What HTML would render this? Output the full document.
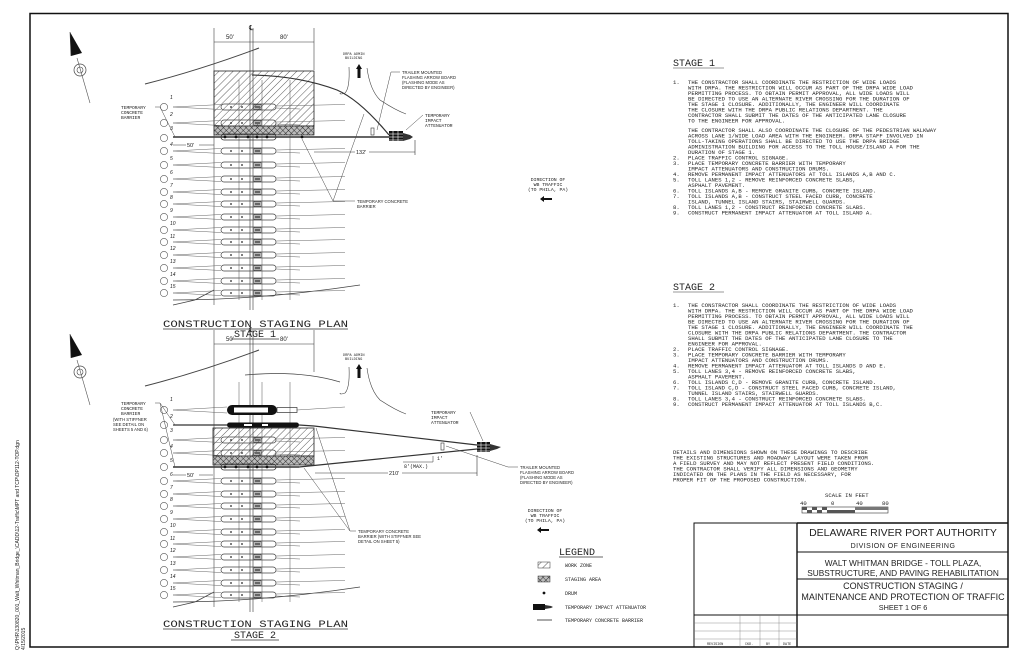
<!DOCTYPE html>
<html><head><meta charset="utf-8"><style>
html,body{margin:0;padding:0;background:#fff;}
svg{display:block;}
.m{font-family:"Liberation Mono",monospace;fill:#222;}
.s{font-family:"Liberation Sans",sans-serif;fill:#222;}
</style></head><body>
<svg width="1024" height="660" viewBox="0 0 1024 660" xmlns="http://www.w3.org/2000/svg">
<defs>
<pattern id="hatch" width="5" height="5" patternUnits="userSpaceOnUse" patternTransform="rotate(45)">
<line x1="0" y1="0" x2="0" y2="5" stroke="#333" stroke-width="0.8"/></pattern>
<pattern id="xh" width="4" height="4" patternUnits="userSpaceOnUse" patternTransform="rotate(45)">
<rect width="4" height="4" fill="#bbb"/><line x1="0" y1="0" x2="0" y2="4" stroke="#222" stroke-width="0.9"/><line x1="0" y1="0" x2="4" y2="0" stroke="#222" stroke-width="0.9"/></pattern>
<g id="row">
<line x1="173" y1="0" x2="221" y2="-2.5" stroke="#666" stroke-width="0.6"/>
<line x1="173" y1="0" x2="221" y2="2.5" stroke="#666" stroke-width="0.6"/>
<rect x="221" y="-3" width="55" height="6" rx="3" fill="none" stroke="#444" stroke-width="0.7"/>
<rect x="254" y="-2.5" width="7" height="5" fill="none" stroke="#333" stroke-width="0.7"/>
<rect x="255" y="-1.5" width="5" height="3" fill="#666"/>
<line x1="276" y1="-1" x2="345" y2="-2.5" stroke="#666" stroke-width="0.6"/>
<line x1="276" y1="1" x2="300" y2="2" stroke="#666" stroke-width="0.6"/>
<circle cx="164" cy="0" r="3.6" fill="none" stroke="#555" stroke-width="0.6"/>
<circle cx="231" cy="0" r="0.9" fill="#222"/><circle cx="242" cy="0" r="0.9" fill="#222"/>
</g>
<g id="north">
<polygon points="70,32 71,56 82,53" fill="#111"/>
<line x1="70" y1="32" x2="71" y2="56" stroke="#333" stroke-width="0.6"/>
<circle cx="80" cy="70" r="6" fill="none" stroke="#444" stroke-width="0.7"/>
<circle cx="80" cy="70" r="3" fill="none" stroke="#444" stroke-width="0.6"/>
<line x1="77" y1="58" x2="90" y2="103" stroke="#555" stroke-width="0.6"/>
</g>
<g id="vlines">
<line x1="214" y1="28" x2="214" y2="305" stroke="#444" stroke-width="0.6"/>
<line x1="314" y1="28" x2="314" y2="70" stroke="#444" stroke-width="0.6"/>
<line x1="250" y1="28" x2="250" y2="310" stroke="#333" stroke-width="0.6"/>
<line x1="253" y1="28" x2="253" y2="310" stroke="#333" stroke-width="0.6"/>
<line x1="239" y1="80" x2="239" y2="300" stroke="#555" stroke-width="0.5"/>
<line x1="262" y1="80" x2="262" y2="300" stroke="#555" stroke-width="0.5"/>
<line x1="290" y1="80" x2="290" y2="300" stroke="#555" stroke-width="0.5"/>
<text x="249" y="30" class="s" font-size="7">℄</text>
<line x1="214" y1="42" x2="314" y2="42" stroke="#333" stroke-width="0.6"/>
<text x="226" y="39" class="s" font-size="6">50'</text><text x="280" y="39" class="s" font-size="6">80'</text>
<path d="M145,84 Q200,70 259,48" fill="none" stroke="#444" stroke-width="1"/>
<path d="M173,305 L195,300 L214,290 M173,300 Q260,300 360,285" fill="none" stroke="#444" stroke-width="0.8"/>
</g>
</defs>

<!-- border -->
<rect x="30" y="13.5" width="978" height="633.5" fill="none" stroke="#111" stroke-width="1.5"/>

<text transform="translate(19,650) rotate(-90)" class="s" font-size="5" fill="#666">Q:\PHR\130820_001_Walt_Whitman_Bridge_\CADD\12-Traffic\MPT and TCP\OP112-TOP.dgn</text>
<text transform="translate(25,650) rotate(-90)" class="s" font-size="5" fill="#666">4/15/2015</text>

<!-- ========== STAGE 1 PLAN ========== -->
<use href="#north"/>
<use href="#vlines"/>
<rect x="214" y="71" width="100" height="55" fill="url(#hatch)" stroke="#222" stroke-width="0.8"/>
<rect x="214" y="126" width="100" height="9" fill="url(#xh)" stroke="#222" stroke-width="0.7"/>
<use href="#row" y="107"/><use href="#row" y="123"/>
<use href="#row" y="151"/><use href="#row" y="165"/><use href="#row" y="179"/><use href="#row" y="192"/>
<use href="#row" y="204"/><use href="#row" y="217"/><use href="#row" y="230"/><use href="#row" y="242"/>
<use href="#row" y="255"/><use href="#row" y="268"/><use href="#row" y="281"/><use href="#row" y="293"/>
<circle cx="164" cy="138" r="3.6" fill="none" stroke="#555" stroke-width="0.6"/>
<g class="s" font-size="5" font-style="italic" fill="#555">
<text x="170" y="99">1</text><text x="170" y="116">2</text><text x="170" y="130">3</text><text x="170" y="146">4</text><text x="170" y="160">5</text><text x="170" y="174">6</text><text x="170" y="187">7</text><text x="170" y="199">8</text><text x="170" y="212">9</text><text x="170" y="225">10</text><text x="170" y="238">11</text><text x="170" y="250">12</text><text x="170" y="263">13</text><text x="170" y="276">14</text><text x="170" y="288">15</text></g>
<!-- barrier -->
<line x1="173" y1="137" x2="389" y2="137" stroke="#333" stroke-width="1.4"/>
<rect x="221" y="134" width="55" height="6" rx="3" fill="none" stroke="#333" stroke-width="0.8"/>
<g fill="#111"><circle cx="225" cy="137" r="1.4"/><circle cx="236" cy="137" r="1.4"/><circle cx="248" cy="137" r="1.4"/><circle cx="257" cy="137" r="1.4"/><circle cx="267" cy="137" r="1.4"/><circle cx="302" cy="137" r="1.4"/></g>
<path d="M389,135 Q360,100 337,90 Q300,76 252,75" fill="none" stroke="#333" stroke-width="1.2"/>
<rect x="389" y="131" width="14" height="10" fill="#111"/>
<g stroke="#fff" stroke-width="0.6"><line x1="389" y1="134" x2="403" y2="134"/><line x1="389" y1="137" x2="403" y2="137"/><line x1="389" y1="140" x2="403" y2="140"/><line x1="393" y1="131" x2="393" y2="141"/><line x1="398" y1="131" x2="398" y2="141"/></g>
<polygon points="403,133 410,135 413,137 410,139 403,141" fill="#333"/>
<line x1="314" y1="152" x2="415" y2="152" stroke="#333" stroke-width="0.6"/>
<line x1="415" y1="140" x2="415" y2="155" stroke="#333" stroke-width="0.6"/>
<rect x="355" y="149" width="14" height="6" fill="#fff"/><text x="356" y="154" class="s" font-size="5.5">132'</text>
<line x1="173" y1="145" x2="214" y2="145" stroke="#333" stroke-width="0.6"/>
<rect x="186" y="141" width="13" height="7" fill="#fff"/><text x="187" y="147" class="s" font-size="5.5">50'</text>
<g class="m" font-size="4.6"><text x="121" y="109">TEMPORARY</text><text x="121" y="114">CONCRETE</text><text x="121" y="119">BARRIER</text></g>
<line x1="155" y1="107" x2="160" y2="107" stroke="#444" stroke-width="0.5"/>
<line x1="160" y1="107" x2="175" y2="137" stroke="#444" stroke-width="0.5"/>
<g class="m" font-size="3.6"><text x="343" y="55">DRPA ADMIN</text><text x="345" y="59">BUILDING</text></g>
<polygon points="359,64 362,69 360.5,69 360.5,78 357.5,78 357.5,69 356,69" fill="#111"/>
<path d="M349,67 Q350,88 345,93 Q340,95 340,93" fill="none" stroke="#444" stroke-width="0.6"/>
<path d="M367,68 Q370,90 380,100 Q395,110 406,114" fill="none" stroke="#444" stroke-width="0.6"/>
<g class="s" font-size="4.2"><text x="402" y="74">TRAILER MOUNTED</text><text x="402" y="79">FLASHING ARROW BOARD</text><text x="402" y="84">(FLASHING MODE AS</text><text x="402" y="89">DIRECTED BY ENGINEER)</text></g>
<line x1="400" y1="72" x2="391" y2="72" stroke="#444" stroke-width="0.5"/><line x1="391" y1="72" x2="377" y2="130" stroke="#444" stroke-width="0.5"/>
<rect x="371" y="128" width="3" height="7" fill="none" stroke="#333" stroke-width="0.6"/>
<g class="m" font-size="4.6"><text x="425" y="117">TEMPORARY</text><text x="425" y="122">IMPACT</text><text x="425" y="127">ATTENUATOR</text></g>
<line x1="423" y1="115" x2="406" y2="130" stroke="#444" stroke-width="0.5"/>
<g class="s" font-size="4.2"><text x="357" y="203">TEMPORARY CONCRETE</text><text x="357" y="208">BARRIER</text></g>
<polyline points="355,201 333,201 302,139" fill="none" stroke="#444" stroke-width="0.5"/>
<line x1="333" y1="201" x2="364" y2="114" stroke="#444" stroke-width="0.5"/>
<g class="m" font-size="4.8" text-anchor="middle"><text x="548" y="181">DIRECTION OF</text><text x="548" y="186">WB TRAFFIC</text><text x="548" y="191">(TO PHILA, PA)</text></g>
<polygon points="540,199 544,196 544,198 552,198 552,200 544,200 544,202" fill="#111"/>
<text x="163" y="327" class="m" font-size="10.5" textLength="185" lengthAdjust="spacingAndGlyphs">CONSTRUCTION STAGING PLAN</text>
<line x1="163" y1="329" x2="348" y2="329" stroke="#333" stroke-width="0.7"/>
<text x="255" y="337" class="m" font-size="10" text-anchor="middle">STAGE 1</text>
<line x1="231" y1="339" x2="279" y2="339" stroke="#333" stroke-width="0.7"/>

<!-- ========== STAGE 2 PLAN ========== -->
<g transform="translate(0,302)"><use href="#north"/><use href="#vlines"/></g>
<rect x="213" y="428" width="101" height="28" fill="url(#hatch)" stroke="#222" stroke-width="0.8"/>
<rect x="213" y="456" width="101" height="9" fill="url(#xh)" stroke="#222" stroke-width="0.7"/>
<g transform="translate(0,302)">
<use href="#row" y="138"/><use href="#row" y="151"/>
<use href="#row" y="179"/><use href="#row" y="192"/>
<use href="#row" y="204"/><use href="#row" y="217"/><use href="#row" y="230"/><use href="#row" y="242"/>
<use href="#row" y="255"/><use href="#row" y="268"/><use href="#row" y="281"/><use href="#row" y="293"/>
</g>
<g class="s" font-size="5" font-style="italic" fill="#555">
<text x="170" y="401">1</text><text x="170" y="418">2</text><text x="170" y="432">3</text><text x="170" y="448">4</text><text x="170" y="462">5</text><text x="170" y="476">6</text><text x="170" y="489">7</text><text x="170" y="501">8</text><text x="170" y="514">9</text><text x="170" y="527">10</text><text x="170" y="540">11</text><text x="170" y="552">12</text><text x="170" y="565">13</text><text x="170" y="578">14</text><text x="170" y="590">15</text></g>
<circle cx="164" cy="410" r="3.6" fill="none" stroke="#555" stroke-width="0.6"/>
<circle cx="164" cy="425" r="3.6" fill="none" stroke="#555" stroke-width="0.6"/>
<circle cx="164" cy="467" r="3.6" fill="none" stroke="#555" stroke-width="0.6"/>
<line x1="173" y1="410" x2="227" y2="407" stroke="#666" stroke-width="0.6"/><line x1="173" y1="410" x2="227" y2="413" stroke="#666" stroke-width="0.6"/>
<line x1="297" y1="410" x2="345" y2="407" stroke="#666" stroke-width="0.6"/>
<rect x="227" y="405" width="50" height="10" rx="5" fill="#111"/>
<rect x="234" y="407.5" width="34" height="5" fill="#fff"/>
<rect x="277" y="407.5" width="20" height="5" fill="none" stroke="#333" stroke-width="0.7"/>
<line x1="173" y1="425" x2="227" y2="425" stroke="#333" stroke-width="1.3"/>
<rect x="227" y="422.5" width="72" height="5" rx="2.5" fill="#111"/>
<rect x="244" y="424" width="8" height="2" fill="#fff"/><rect x="262" y="424" width="6" height="2" fill="#fff"/>
<line x1="299" y1="425" x2="314" y2="426" stroke="#333" stroke-width="1.2"/>
<line x1="314" y1="426" x2="477" y2="445" stroke="#333" stroke-width="1.2"/>
<line x1="173" y1="467" x2="299" y2="467" stroke="#333" stroke-width="1.4"/>
<line x1="299" y1="467" x2="477" y2="449" stroke="#333" stroke-width="1.2"/>
<rect x="221" y="464" width="55" height="6" rx="3" fill="none" stroke="#333" stroke-width="0.8"/>
<g fill="#111"><circle cx="225" cy="467" r="1.4"/><circle cx="236" cy="467" r="1.4"/><circle cx="248" cy="467" r="1.4"/><circle cx="257" cy="467" r="1.4"/><circle cx="267" cy="467" r="1.4"/></g>
<rect x="477" y="442" width="13" height="10" fill="#111"/>
<g stroke="#fff" stroke-width="0.6"><line x1="477" y1="445" x2="490" y2="445"/><line x1="477" y1="448" x2="490" y2="448"/><line x1="477" y1="451" x2="490" y2="451"/><line x1="481" y1="442" x2="481" y2="452"/><line x1="486" y1="442" x2="486" y2="452"/></g>
<polygon points="490,444 497,446 501,447 497,449 490,451" fill="#333"/>
<rect x="441" y="443" width="3" height="7" fill="none" stroke="#333" stroke-width="0.6"/>
<line x1="315" y1="473" x2="477" y2="473" stroke="#333" stroke-width="0.6"/>
<line x1="477" y1="455" x2="477" y2="476" stroke="#333" stroke-width="0.6"/>
<rect x="388" y="470" width="14" height="6" fill="#fff"/><text x="389" y="475" class="s" font-size="5.5">210'</text>
<line x1="403" y1="462" x2="433" y2="462" stroke="#333" stroke-width="0.5"/><line x1="433" y1="456" x2="433" y2="462" stroke="#333" stroke-width="0.5"/>
<text x="404" y="468" class="m" font-size="5">8'(MAX.)</text><text x="437" y="460" class="m" font-size="5">1'</text>
<line x1="173" y1="475" x2="213" y2="475" stroke="#333" stroke-width="0.6"/>
<rect x="186" y="471" width="13" height="7" fill="#fff"/><text x="187" y="477" class="s" font-size="5.5">50'</text>
<g class="m" font-size="4.6"><text x="121" y="405">TEMPORARY</text><text x="121" y="410">CONCRETE</text><text x="121" y="415">BARRIER</text></g>
<g class="s" font-size="4.2"><text x="113" y="421">(WITH STIFFNER</text><text x="113" y="426">SEE DETAIL ON</text><text x="113" y="431">SHEETS 5 AND 6)</text></g>
<line x1="155" y1="403" x2="160" y2="403" stroke="#444" stroke-width="0.5"/>
<line x1="160" y1="403" x2="175" y2="467" stroke="#444" stroke-width="0.5"/>
<line x1="160" y1="403" x2="175" y2="425" stroke="#444" stroke-width="0.5"/>
<g class="m" font-size="3.6"><text x="343" y="356">DRPA ADMIN</text><text x="345" y="360">BUILDING</text></g>
<polygon points="359,364 362,369 360.5,369 360.5,378 357.5,378 357.5,369 356,369" fill="#111"/>
<path d="M349,367 Q350,388 345,393 Q340,395 340,393" fill="none" stroke="#444" stroke-width="0.6"/>
<path d="M367,368 Q370,390 380,400 Q395,410 406,414" fill="none" stroke="#444" stroke-width="0.6"/>
<path d="M245,375 Q300,370 340,382" fill="none" stroke="#444" stroke-width="0.8"/>
<g class="m" font-size="4.6"><text x="431" y="414">TEMPORARY</text><text x="431" y="419">IMPACT</text><text x="431" y="424">ATTENUATOR</text></g>
<line x1="470" y1="412" x2="483" y2="441" stroke="#444" stroke-width="0.5"/>
<g class="s" font-size="4.2"><text x="520" y="469">TRAILER MOUNTED</text><text x="520" y="474">FLASHING ARROW BOARD</text><text x="520" y="479">(FLASHING MODE AS</text><text x="520" y="484">DIRECTED BY ENGINEER)</text></g>
<polyline points="518,467 508,467 446,446" fill="none" stroke="#444" stroke-width="0.5"/>
<g class="s" font-size="4.2"><text x="358" y="533">TEMPORARY CONCRETE</text><text x="358" y="538">BARRIER (WITH STIFFNER SEE</text><text x="358" y="543">DETAIL ON SHEET 5)</text></g>
<polyline points="356,531 350,531 304,468" fill="none" stroke="#444" stroke-width="0.5"/>
<line x1="350" y1="531" x2="316" y2="428" stroke="#444" stroke-width="0.5"/>
<g class="m" font-size="4.8" text-anchor="middle"><text x="545" y="512">DIRECTION OF</text><text x="545" y="517">WB TRAFFIC</text><text x="545" y="522">(TO PHILA, PA)</text></g>
<polygon points="537,530 541,527 541,529 549,529 549,531 541,531 541,533" fill="#111"/>
<!-- legend -->
<text x="559" y="555" class="m" font-size="10">LEGEND</text>
<line x1="559" y1="557" x2="603" y2="557" stroke="#333" stroke-width="0.7"/>
<rect x="538" y="562" width="12" height="6" fill="url(#hatch)" stroke="#333" stroke-width="0.5"/>
<rect x="538" y="576" width="12" height="6" fill="url(#xh)" stroke="#333" stroke-width="0.5"/>
<circle cx="544" cy="593" r="1.4" fill="#111"/>
<rect x="533" y="604" width="12" height="6" fill="#111"/><polygon points="545,605 551,606 553,607 551,608 545,609" fill="#333"/>
<line x1="537" y1="620" x2="552" y2="620" stroke="#555" stroke-width="1"/>
<g class="m" font-size="5"><text x="565" y="567">WORK ZONE</text><text x="565" y="581">STAGING AREA</text><text x="565" y="595">DRUM</text><text x="565" y="609">TEMPORARY IMPACT ATTENUATOR</text><text x="565" y="622">TEMPORARY CONCRETE BARRIER</text></g>
<text x="163" y="627" class="m" font-size="10.5" textLength="185" lengthAdjust="spacingAndGlyphs">CONSTRUCTION STAGING PLAN</text>
<line x1="163" y1="629" x2="348" y2="629" stroke="#333" stroke-width="0.7"/>
<text x="255" y="638" class="m" font-size="10" text-anchor="middle">STAGE 2</text>
<line x1="231" y1="640" x2="279" y2="640" stroke="#333" stroke-width="0.7"/>

<!-- ========== NOTES ========== -->
<text x="673" y="66" class="m" font-size="10">STAGE 1</text>
<line x1="673" y1="68" x2="724" y2="68" stroke="#333" stroke-width="0.6"/>
<g class="m" font-size="5.6">
<text x="673" y="84">1.</text>
<text x="688" y="84">THE CONSTRACTOR SHALL COORDINATE THE RESTRICTION OF WIDE LOADS</text>
<text x="688" y="89.5">WITH DRPA. THE RESTRICTION WILL OCCUR AS PART OF THE DRPA WIDE LOAD</text>
<text x="688" y="95">PERMITTING PROCESS. TO OBTAIN PERMIT APPROVAL, ALL WIDE LOADS WILL</text>
<text x="688" y="100.5">BE DIRECTED TO USE AN ALTERNATE RIVER CROSSING FOR THE DURATION OF</text>
<text x="688" y="106">THE STAGE 1 CLOSURE. ADDITIONALLY, THE ENGINEER WILL COORDINATE</text>
<text x="688" y="111.5">THE CLOSURE WITH THE DRPA PUBLIC RELATIONS DEPARTMENT. THE</text>
<text x="688" y="117">CONTRACTOR SHALL SUBMIT THE DATES OF THE ANTICIPATED LANE CLOSURE</text>
<text x="688" y="122.5">TO THE ENGINEER FOR APPROVAL.</text>
<text x="688" y="132">THE CONTRACTOR SHALL ALSO COORDINATE THE CLOSURE OF THE PEDESTRIAN WALKWAY</text>
<text x="688" y="137.5">ACROSS LANE 1/WIDE LOAD AREA WITH THE ENGINEER. DRPA STAFF INVOLVED IN</text>
<text x="688" y="143">TOLL-TAKING OPERATIONS SHALL BE DIRECTED TO USE THE DRPA BRIDGE</text>
<text x="688" y="148.5">ADMINISTRATION BUILDING FOR ACCESS TO THE TOLL HOUSE/ISLAND A FOR THE</text>
<text x="688" y="154">DURATION OF STAGE 1.</text>
<text x="673" y="159.5">2.</text><text x="688" y="159.5">PLACE TRAFFIC CONTROL SIGNAGE.</text>
<text x="673" y="165">3.</text><text x="688" y="165">PLACE TEMPORARY CONCRETE BARRIER WITH TEMPORARY</text>
<text x="688" y="170.5">IMPACT ATTENUATORS AND CONSTRUCTION DRUMS.</text>
<text x="673" y="176">4.</text><text x="688" y="176">REMOVE PERMANENT IMPACT ATTENUATORS AT TOLL ISLANDS A,B AND C.</text>
<text x="673" y="181.5">5.</text><text x="688" y="181.5">TOLL LANES 1,2 - REMOVE REINFORCED CONCRETE SLABS,</text>
<text x="688" y="187">ASPHALT PAVEMENT.</text>
<text x="673" y="192.5">6.</text><text x="688" y="192.5">TOLL ISLANDS A,B - REMOVE GRANITE CURB, CONCRETE ISLAND.</text>
<text x="673" y="198">7.</text><text x="688" y="198">TOLL ISLANDS A,B - CONSTRUCT STEEL FACED CURB, CONCRETE</text>
<text x="688" y="203.5">ISLAND, TUNNEL ISLAND STAIRS, STAIRWELL GUARDS.</text>
<text x="673" y="209">8.</text><text x="688" y="209">TOLL LANES 1,2 - CONSTRUCT REINFORCED CONCRETE SLABS.</text>
<text x="673" y="214.5">9.</text><text x="688" y="214.5">CONSTRUCT PERMANENT IMPACT ATTENUATOR AT TOLL ISLAND A.</text>
</g>
<text x="673" y="290" class="m" font-size="10">STAGE 2</text>
<line x1="673" y1="292" x2="724" y2="292" stroke="#333" stroke-width="0.6"/>
<g class="m" font-size="5.6">
<text x="673" y="307">1.</text>
<text x="688" y="307">THE CONSTRACTOR SHALL COORDINATE THE RESTRICTION OF WIDE LOADS</text>
<text x="688" y="312.5">WITH DRPA. THE RESTRICTION WILL OCCUR AS PART OF THE DRPA WIDE LOAD</text>
<text x="688" y="318">PERMITTING PROCESS. TO OBTAIN PERMIT APPROVAL, ALL WIDE LOADS WILL</text>
<text x="688" y="323.5">BE DIRECTED TO USE AN ALTERNATE RIVER CROSSING FOR THE DURATION OF</text>
<text x="688" y="329">THE STAGE 1 CLOSURE. ADDITIONALLY, THE ENGINEER WILL COORDINATE THE</text>
<text x="688" y="334.5">CLOSURE WITH THE DRPA PUBLIC RELATIONS DEPARTMENT. THE CONTRACTOR</text>
<text x="688" y="340">SHALL SUBMIT THE DATES OF THE ANTICIPATED LANE CLOSURE TO THE</text>
<text x="688" y="345.5">ENGINEER FOR APPROVAL.</text>
<text x="673" y="351">2.</text><text x="688" y="351">PLACE TRAFFIC CONTROL SIGNAGE.</text>
<text x="673" y="356.5">3.</text><text x="688" y="356.5">PLACE TEMPORARY CONCRETE BARRIER WITH TEMPORARY</text>
<text x="688" y="362">IMPACT ATTENUATORS AND CONSTRUCTION DRUMS.</text>
<text x="673" y="367.5">4.</text><text x="688" y="367.5">REMOVE PERMANENT IMPACT ATTENUATOR AT TOLL ISLANDS D AND E.</text>
<text x="673" y="373">5.</text><text x="688" y="373">TOLL LANES 3,4 - REMOVE REINFORCED CONCRETE SLABS,</text>
<text x="688" y="378.5">ASPHALT PAVEMENT.</text>
<text x="673" y="384">6.</text><text x="688" y="384">TOLL ISLANDS C,D - REMOVE GRANITE CURB, CONCRETE ISLAND.</text>
<text x="673" y="389.5">7.</text><text x="688" y="389.5">TOLL ISLAND C,D - CONSTRUCT STEEL FACED CURB, CONCRETE ISLAND,</text>
<text x="688" y="395">TUNNEL ISLAND STAIRS, STAIRWELL GUARDS.</text>
<text x="673" y="400.5">8.</text><text x="688" y="400.5">TOLL LANES 3,4 - CONSTRUCT REINFORCED CONCRETE SLABS.</text>
<text x="673" y="406">9.</text><text x="688" y="406">CONSTRUCT PERMANENT IMPACT ATTENUATOR AT TOLL ISLANDS B,C.</text>
<text x="673" y="454">DETAILS AND DIMENSIONS SHOWN ON THESE DRAWINGS TO DESCRIBE</text>
<text x="673" y="459.5">THE EXISTING STRUCTURES AND ROADWAY LAYOUT WERE TAKEN FROM</text>
<text x="673" y="465">A FIELD SURVEY AND MAY NOT REFLECT PRESENT FIELD CONDITIONS.</text>
<text x="673" y="470.5">THE CONTRACTOR SHALL VERIFY ALL DIMENSIONS AND GEOMETRY</text>
<text x="673" y="476">INDICATED ON THE PLANS IN THE FIELD AS NECESSARY, FOR</text>
<text x="673" y="481.5">PROPER FIT OF THE PROPOSED CONSTRUCTION.</text>
<text x="825" y="497">SCALE IN FEET</text>
<text x="800" y="505">40</text><text x="831" y="505">0</text><text x="856" y="505">40</text><text x="882" y="505">80</text>
</g>
<rect x="802" y="507" width="86" height="6" fill="#fff" stroke="#333" stroke-width="0.6"/>
<rect x="802" y="507" width="5" height="3" fill="#555"/><rect x="807" y="510" width="5" height="3" fill="#555"/><rect x="812" y="507" width="5" height="3" fill="#555"/><rect x="817" y="510" width="5" height="3" fill="#555"/><rect x="822" y="507" width="5" height="3" fill="#555"/><rect x="827" y="510" width="5" height="3" fill="#555"/>
<rect x="832" y="510" width="23" height="3" fill="#555"/><rect x="855" y="507" width="33" height="3" fill="#777"/>

<!-- title block -->
<g fill="none" stroke="#111">
<rect x="694" y="523" width="314" height="124" stroke-width="1"/>
<line x1="797" y1="523" x2="797" y2="647" stroke-width="1.4"/>
<line x1="797" y1="523" x2="1008" y2="523" stroke-width="1.6"/>
<line x1="797" y1="552" x2="1008" y2="552" stroke-width="1"/>
<line x1="797" y1="579" x2="1008" y2="579" stroke-width="1"/>
<line x1="694" y1="615" x2="1008" y2="615" stroke-width="1"/>
<g stroke-width="0.4" stroke="#777"><line x1="694" y1="623" x2="797" y2="623"/><line x1="694" y1="631" x2="797" y2="631"/><line x1="694" y1="639" x2="797" y2="639"/>
<line x1="740" y1="615" x2="740" y2="647"/><line x1="760" y1="615" x2="760" y2="647"/><line x1="779" y1="615" x2="779" y2="647"/></g>
</g>
<g class="m" font-size="3.4" fill="#444"><text x="707" y="645">REVISION</text><text x="745" y="645">CKD.</text><text x="766" y="645">BY</text><text x="783" y="645">DATE</text></g>
<g class="s" text-anchor="middle">
<text x="903" y="536" font-size="10.5">DELAWARE RIVER PORT AUTHORITY</text>
<text x="903" y="548" font-size="7" letter-spacing="0.5">DIVISION OF ENGINEERING</text>
<text x="903" y="566" font-size="8.3">WALT WHITMAN BRIDGE - TOLL PLAZA,</text>
<text x="903" y="576" font-size="8.3">SUBSTRUCTURE, AND PAVING REHABILITATION</text>
<text x="903" y="589" font-size="9">CONSTRUCTION STAGING /</text>
<text x="903" y="600" font-size="9">MAINTENANCE AND PROTECTION OF TRAFFIC</text>
<text x="903" y="610" font-size="7.3">SHEET 1 OF 6</text>
</g>
</svg>
</body></html>
